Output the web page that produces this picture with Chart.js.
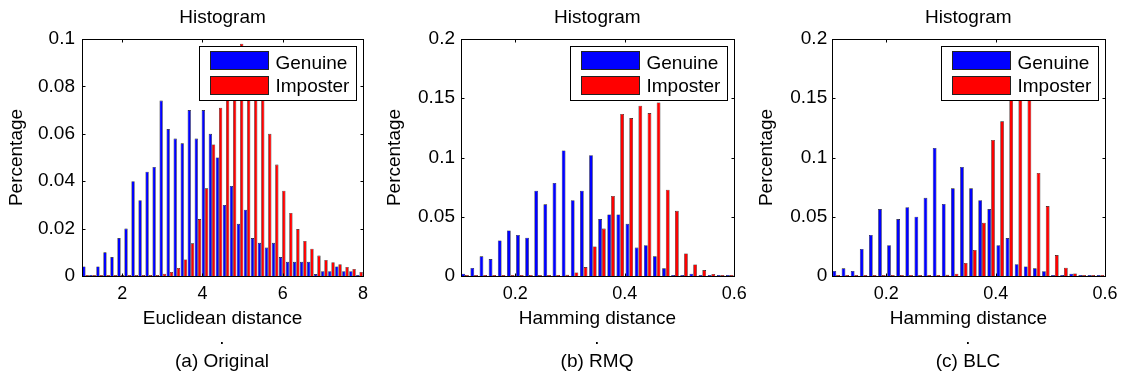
<!DOCTYPE html>
<html>
<head>
<meta charset="utf-8">
<script src="https://cdn.jsdelivr.net/npm/chart.js@4.4.1/dist/chart.umd.min.js"></script>
<style>
body { margin: 0; background: #fff; }
#wrap { position: relative; width: 1126px; height: 378px; font-family: "Liberation Sans", Arial, sans-serif; }
.panel { position: absolute; top: 0; }
.caption { position: absolute; top: 326px; width: 200px; text-align: center; font-size: 19px; line-height: 23px; color: #000; }
</style>
</head>
<body>
<div id="wrap">
    <canvas id="chartA" class="panel" width="375" height="330" style="left:0px"></canvas>
    <canvas id="chartB" class="panel" width="375" height="330" style="left:375px"></canvas>
    <canvas id="chartC" class="panel" width="376" height="330" style="left:750px"></canvas>
    <div class="caption" style="left:122px">.<br>(a) Original</div>
    <div class="caption" style="left:497px">.<br>(b) RMQ</div>
    <div class="caption" style="left:868px">.<br>(c) BLC</div>
</div>
<script>
// bin centres of the histograms
const euclidCenters = [1.0875, 1.2625, 1.4375, 1.6125, 1.7875, 1.9625, 2.1375, 2.3125, 2.4875, 2.6625,
    2.8375, 3.0125, 3.1875, 3.3625, 3.5375, 3.7125, 3.8875, 4.0625, 4.2375, 4.4125,
    4.5875, 4.7625, 4.9375, 5.1125, 5.2875, 5.4625, 5.6375, 5.8125, 5.9875, 6.1625,
    6.3375, 6.5125, 6.6875, 6.8625, 7.0375, 7.2125, 7.3875, 7.5625, 7.7375, 7.9125];
const hammingCenters = [0.1083, 0.125, 0.1417, 0.1583, 0.175, 0.1917, 0.2083, 0.225, 0.2417, 0.2583,
    0.275, 0.2917, 0.3083, 0.325, 0.3417, 0.3583, 0.375, 0.3917, 0.4083, 0.425,
    0.4417, 0.4583, 0.475, 0.4917, 0.5083, 0.525, 0.5417, 0.5583, 0.575, 0.5917];

// (a) Original
const euclidGenuine = [0.004, 0.0004, 0.004, 0.010, 0.008, 0.016, 0.020, 0.040, 0.032, 0.044,
    0.046, 0.074, 0.062, 0.058, 0.056, 0.070, 0.058, 0.070, 0.060, 0.050,
    0.030, 0.038, 0.022, 0.028, 0.016, 0.014, 0.012, 0.014, 0.008, 0.006,
    0.006, 0.006, 0.006, 0.0008, 0.002, 0.002, 0.004, 0.002, 0.002, 0.0004];
const euclidImposter = [0.0004, 0.0004, 0.0004, 0.0004, 0.0004, 0.0004, 0.0004, 0.0004, 0.0004, 0.0004,
    0.0004, 0.001, 0.0017, 0.0034, 0.007, 0.0138, 0.024, 0.037, 0.0555, 0.071,
    0.085, 0.092, 0.098, 0.095, 0.089, 0.082, 0.060, 0.047, 0.036, 0.0266,
    0.0198, 0.0148, 0.0115, 0.0086, 0.0068, 0.0058, 0.005, 0.0038, 0.003, 0.0017];

// (b) RMQ
const rmqGenuine = [0.002, 0.0068, 0.0166, 0.0143, 0.030, 0.0385, 0.0346, 0.0323, 0.072, 0.0605,
    0.0785, 0.106, 0.064, 0.072, 0.102, 0.048, 0.052, 0.052, 0.044, 0.024,
    0.026, 0.0166, 0.0065, 0.0008, 0.0008, 0.002, 0.0008, 0.0008, 0.0008, 0.0008];
const rmqImposter = [0.0008, 0.0008, 0.0008, 0.0008, 0.0008, 0.0008, 0.0008, 0.0008, 0.0008, 0.0008,
    0.0008, 0.001, 0.003, 0.0075, 0.025, 0.040, 0.0675, 0.1367, 0.1333, 0.1437,
    0.1375, 0.1465, 0.0728, 0.055, 0.019, 0.0098, 0.005, 0.0017, 0.0008, 0.0008];

// (c) BLC
const blcGenuine = [0.0042, 0.0065, 0.0042, 0.0228, 0.0346, 0.0565, 0.026, 0.048, 0.058, 0.050,
    0.066, 0.108, 0.0608, 0.074, 0.092, 0.074, 0.064, 0.0565, 0.026, 0.032,
    0.010, 0.008, 0.0065, 0.004, 0.0008, 0.0008, 0.002, 0.0008, 0.0008, 0.0008];
const blcImposter = [0.0008, 0.0008, 0.0008, 0.0008, 0.0008, 0.0008, 0.0008, 0.0008, 0.0008, 0.0008,
    0.0008, 0.0008, 0.001, 0.002, 0.011, 0.022, 0.045, 0.1148, 0.1305, 0.16,
    0.172, 0.165, 0.087, 0.059, 0.0177, 0.007, 0.0022, 0.0008, 0.0008, 0.0008];

const euclidXTicks = [2, 4, 6, 8];
const hammingXTicks = [0.2, 0.4, 0.6];
const euclidYTicks = [0, 0.02, 0.04, 0.06, 0.08, 0.1];
const hammingYTicks = [0, 0.05, 0.1, 0.15, 0.2];

const FONT = '"Liberation Sans", Arial, sans-serif';

// matlab-like box, inward ticks and legend drawn inside the axes
const matlabAxes = {
    id: 'matlabAxes',
    afterDatasetsDraw(chart) {
        const ctx = chart.ctx;
        const area = chart.chartArea;
        const w = 157, h = 54;
        const left = Math.round(area.right - 7.5 - w) + 0.5;
        const top = Math.round(area.top + 6.5) + 0.5;
        ctx.save();
        ctx.fillStyle = '#fff';
        ctx.fillRect(left, top, w, h);
        ctx.strokeStyle = '#000';
        ctx.lineWidth = 1;
        ctx.strokeRect(left, top, w, h);
        ctx.font = '19px ' + FONT;
        ctx.textBaseline = 'alphabetic';
        ctx.textAlign = 'left';
        chart.data.datasets.forEach((ds, i) => {
            const sy = top + 5 + i * 25;
            ctx.fillStyle = ds.backgroundColor;
            ctx.fillRect(left + 11, sy, 58, 18);
            ctx.strokeStyle = '#222';
            ctx.strokeRect(left + 11, sy, 58, 18);
            ctx.fillStyle = '#000';
            ctx.fillText(ds.label, left + 76, top + 22.5 + i * 23);
        });
        ctx.restore();
    },
    afterDraw(chart) {
        const ctx = chart.ctx;
        const area = chart.chartArea;
        const xs = chart.scales.x;
        const ys = chart.scales.y;
        const l = Math.round(area.left) + 0.5, r = Math.round(area.right) + 0.5;
        const t = Math.round(area.top) + 0.5, b = Math.round(area.bottom) + 0.5;
        ctx.save();
        ctx.strokeStyle = '#000';
        ctx.lineWidth = 1;
        ctx.beginPath();
        xs.ticks.forEach(tick => {
            const px = Math.round(xs.getPixelForValue(tick.value)) + 0.5;
            ctx.moveTo(px, b); ctx.lineTo(px, b - 3);
            ctx.moveTo(px, t); ctx.lineTo(px, t + 3);
        });
        ys.ticks.forEach(tick => {
            const py = Math.round(ys.getPixelForValue(tick.value)) + 0.5;
            ctx.moveTo(l, py); ctx.lineTo(l + 3, py);
            ctx.moveTo(r, py); ctx.lineTo(r - 3, py);
        });
        ctx.stroke();
        ctx.strokeRect(l, t, r - l, b - t);
        ctx.restore();
    }
};

function makeHistogram(canvasId, centers, genuine, imposter, cfg) {
    const ctx = document.getElementById(canvasId).getContext('2d');
    return new Chart(ctx, {
        type: 'bar',
        data: {
            datasets: [
                {
                    label: 'Genuine',
                    data: centers.map((c, i) => ({ x: c, y: genuine[i] })),
                    backgroundColor: '#0000ff',
                    borderColor: '#111',
                    borderWidth: 0.6,
                    categoryPercentage: cfg.catPct,
                    barPercentage: 1
                },
                {
                    label: 'Imposter',
                    data: centers.map((c, i) => ({ x: c, y: imposter[i] })),
                    backgroundColor: '#ff0000',
                    borderColor: '#111',
                    borderWidth: 0.6,
                    categoryPercentage: cfg.catPct,
                    barPercentage: 1
                }
            ]
        },
        options: {
            responsive: false,
            animation: false,
            layout: { padding: { left: 0, right: cfg.padRight, top: 0, bottom: 0 } },
            plugins: {
                legend: { display: false },
                tooltip: { enabled: false },
                title: {
                    display: true,
                    fullSize: false,
                    text: 'Histogram',
                    color: '#000',
                    font: { family: FONT, size: 19, weight: 'normal' },
                    padding: { top: 6, bottom: 10.2 }
                }
            },
            scales: {
                x: {
                    type: 'linear',
                    min: cfg.xMin,
                    max: cfg.xMax,
                    offset: false,
                    grid: { display: false, drawTicks: false },
                    border: { display: false },
                    ticks: {
                        color: '#000',
                        font: { family: FONT, size: 18 },
                        padding: 7,
                        maxRotation: 0,
                        autoSkip: false,
                        callback: v => String(v)
                    },
                    afterBuildTicks: s => { s.ticks = cfg.xTicks.map(v => ({ value: v })); },
                    afterFit: s => { s.height = 54; s.paddingLeft = 0; s.paddingRight = 0; },
                    title: {
                        display: true,
                        text: cfg.xTitle,
                        color: '#000',
                        font: { family: FONT, size: 19 },
                        padding: { top: 0, bottom: 0 }
                    }
                },
                y: {
                    min: 0,
                    max: cfg.yMax,
                    grid: { display: false, drawTicks: false },
                    border: { display: false },
                    ticks: {
                        color: '#000',
                        font: { family: FONT, size: 19 },
                        padding: cfg.yTickPad,
                        callback: v => String(v)
                    },
                    afterBuildTicks: s => { s.ticks = cfg.yTicks.map(v => ({ value: v })); },
                    afterFit: s => { s.width = cfg.yWidth; s.paddingTop = 0; s.paddingBottom = 0; },
                    title: {
                        display: true,
                        text: 'Percentage',
                        color: '#000',
                        font: { family: FONT, size: 19 },
                        padding: { top: cfg.yTitlePad, bottom: 0 }
                    }
                }
            }
        },
        plugins: [matlabAxes]
    });
}

makeHistogram('chartA', euclidCenters, euclidGenuine, euclidImposter, {
    xMin: 1, xMax: 8, yMax: 0.1, xTicks: euclidXTicks, yTicks: euclidYTicks,
    xTitle: 'Euclidean distance', padRight: 12, yWidth: 82, yTickPad: 7, yTitlePad: 5, catPct: 0.93
});
makeHistogram('chartB', hammingCenters, rmqGenuine, rmqImposter, {
    xMin: 0.1, xMax: 0.6, yMax: 0.2, xTicks: hammingXTicks, yTicks: hammingYTicks,
    xTitle: 'Hamming distance', padRight: 15.7, yWidth: 85.5, yTickPad: 5.5, yTitlePad: 8.5, catPct: 0.82
});
makeHistogram('chartC', hammingCenters, blcGenuine, blcImposter, {
    xMin: 0.1, xMax: 0.6, yMax: 0.2, xTicks: hammingXTicks, yTicks: hammingYTicks,
    xTitle: 'Hamming distance', padRight: 21, yWidth: 81.7, yTickPad: 4.5, yTitlePad: 5, catPct: 0.82
});
</script>
</body>
</html>
